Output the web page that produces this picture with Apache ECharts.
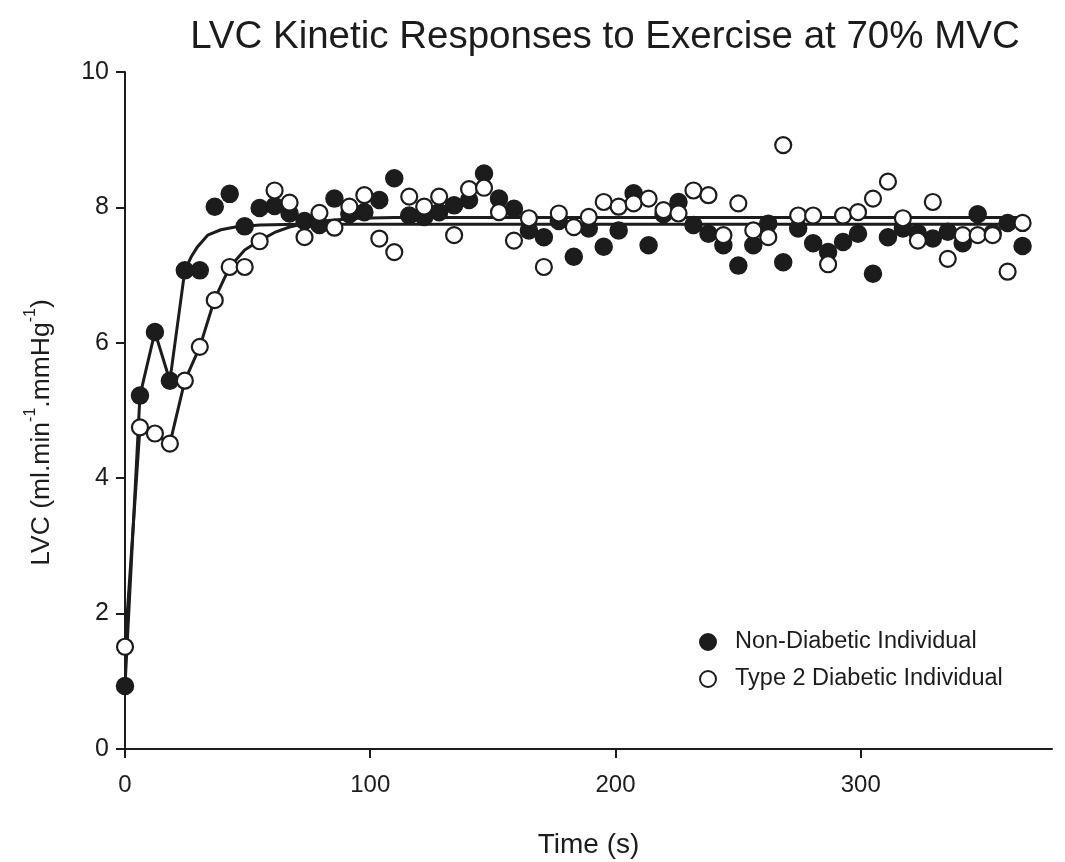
<!DOCTYPE html>
<html>
<head>
<meta charset="utf-8">
<script src="https://cdn.jsdelivr.net/npm/echarts@6/dist/echarts.min.js"></script>
<style>html,body{margin:0;padding:0;background:#fff}#c{width:1065px;height:862px}</style>
</head>
<body>
<div id="c"></div>
<script>
// Sample times (s)
const times = [0,6.1,12.2,18.3,24.4,30.5,36.6,42.7,48.8,54.9,61,67.1,73.2,79.3,85.4,91.5,97.6,103.7,109.8,115.9,
  122,128.1,134.2,140.3,146.4,152.5,158.6,164.7,170.8,176.9,183,189.1,195.2,201.3,207.4,213.5,219.6,225.7,231.8,237.9,
  244,250.1,256.2,262.3,268.4,274.5,280.6,286.7,292.8,298.9,305,311.1,317.2,323.3,329.4,335.5,341.6,347.7,353.8,359.9,366];
// Non-Diabetic individual (filled)
const nonDiabetic = [0.93,5.22,6.16,5.44,7.07,7.07,8.01,8.20,7.72,7.99,8.02,7.91,7.80,7.74,8.13,7.90,7.93,8.11,8.43,7.88,
  7.86,7.93,8.03,8.11,8.50,8.13,7.98,7.66,7.56,7.80,7.27,7.69,7.42,7.66,8.21,7.44,7.90,8.08,7.74,7.61,
  7.44,7.14,7.44,7.76,7.19,7.69,7.47,7.34,7.49,7.61,7.02,7.56,7.69,7.62,7.54,7.64,7.47,7.90,7.62,7.77,7.43];
// Type 2 Diabetic individual (open)
const diabetic = [1.51,4.75,4.66,4.51,5.44,5.94,6.63,7.12,7.12,7.50,8.25,8.07,7.56,7.92,7.70,8.01,8.18,7.54,7.34,8.16,
  8.01,8.16,7.59,8.27,8.29,7.93,7.51,7.84,7.12,7.91,7.71,7.86,8.08,8.01,8.06,8.13,7.96,7.91,8.25,8.18,
  7.59,8.06,7.66,7.56,8.92,7.88,7.88,7.16,7.88,7.93,8.13,8.38,7.84,7.51,8.08,7.24,7.59,7.59,7.59,7.05,7.77];
// Fitted response curves
const fitNonDiabeticT = [0,6.1,12.2,18.3,24.4,27,29.6,33.7,39.1,45,55,70,366];
const fitNonDiabeticV = [0.93,5.22,6.16,5.44,7.07,7.27,7.42,7.59,7.67,7.71,7.74,7.75,7.75];
const fitDiabeticT = [0,6.1,12.2,18.3,24.4,30.5,36.6,42.7,48.8,54.9,61,67.1,74,84,95,110,366];
const fitDiabeticV = [1.51,4.75,4.66,4.51,5.44,5.94,6.65,7.12,7.37,7.51,7.63,7.71,7.77,7.81,7.84,7.85,7.85];
const xTicks = [0,100,200,300];
const yTicks = [0,2,4,6,8,10];

const zip = (a,b) => a.map((v,i)=>[v,b[i]]);
const ink = '#1c1c1c';
const font = 'Liberation Sans, Arial, sans-serif';

const chart = echarts.init(document.getElementById('c'));
chart.setOption({
  animation:false,
  backgroundColor:'#fff',
  title:{text:'LVC Kinetic Responses to Exercise at 70% MVC',left:600,textAlign:'center',top:13,
    textStyle:{fontFamily:font,fontSize:38.5,fontWeight:'normal',color:ink}},
  grid:{left:125,top:72,right:13,bottom:113,containLabel:false,outerBoundsMode:'none'},
  legend:{orient:'vertical',left:694,top:625,itemWidth:16,itemHeight:16,itemGap:13,
    textStyle:{fontFamily:font,fontSize:23.5,color:ink,padding:[0,0,0,14]},
    data:['Non-Diabetic Individual','Type 2 Diabetic Individual']},
  xAxis:{type:'value',min:0,max:378,
    name:'Time (s)',nameLocation:'middle',nameGap:82,
    nameTextStyle:{fontFamily:font,fontSize:28,color:ink},
    splitLine:{show:false},
    axisLine:{show:true,lineStyle:{color:ink,width:2}},
    axisTick:{show:true,inside:false,length:9,customValues:xTicks,lineStyle:{color:ink,width:2}},
    axisLabel:{customValues:xTicks,fontFamily:font,fontSize:24,color:ink,margin:24}},
  yAxis:{type:'value',min:0,max:10,interval:2,
    name:'{a|LVC (ml.min}{s|-1}{a|.mmHg}{s|-1}{a|)}',nameLocation:'middle',nameGap:70,nameRotate:90,
    nameTextStyle:{padding:[0,44,0,0],rich:{a:{fontFamily:font,fontSize:26.5,color:ink,verticalAlign:'bottom',lineHeight:32},
      s:{fontFamily:font,fontSize:16,color:ink,verticalAlign:'top',lineHeight:32}}},
    splitLine:{show:false},
    axisLine:{show:true,lineStyle:{color:ink,width:2}},
    axisTick:{show:true,inside:false,length:9,lineStyle:{color:ink,width:2}},
    axisLabel:{fontFamily:font,fontSize:25,color:ink,margin:16}},
  series:[
    {type:'line',data:zip(fitNonDiabeticT,fitNonDiabeticV),showSymbol:false,symbol:'none',
      lineStyle:{color:ink,width:3},z:1,silent:true,legendHoverLink:false},
    {type:'line',data:zip(fitDiabeticT,fitDiabeticV),showSymbol:false,symbol:'none',
      lineStyle:{color:ink,width:3},z:1,silent:true,legendHoverLink:false},
    {name:'Non-Diabetic Individual',type:'scatter',data:zip(times,nonDiabetic),symbol:'circle',symbolSize:17,
      itemStyle:{color:ink,borderColor:ink,borderWidth:1.5,opacity:1},z:3},
    {name:'Type 2 Diabetic Individual',type:'scatter',data:zip(times,diabetic),symbol:'circle',symbolSize:16,
      itemStyle:{color:'#fff',borderColor:ink,borderWidth:2.2,opacity:1},z:4}
  ]
});
</script>
</body>
</html>
